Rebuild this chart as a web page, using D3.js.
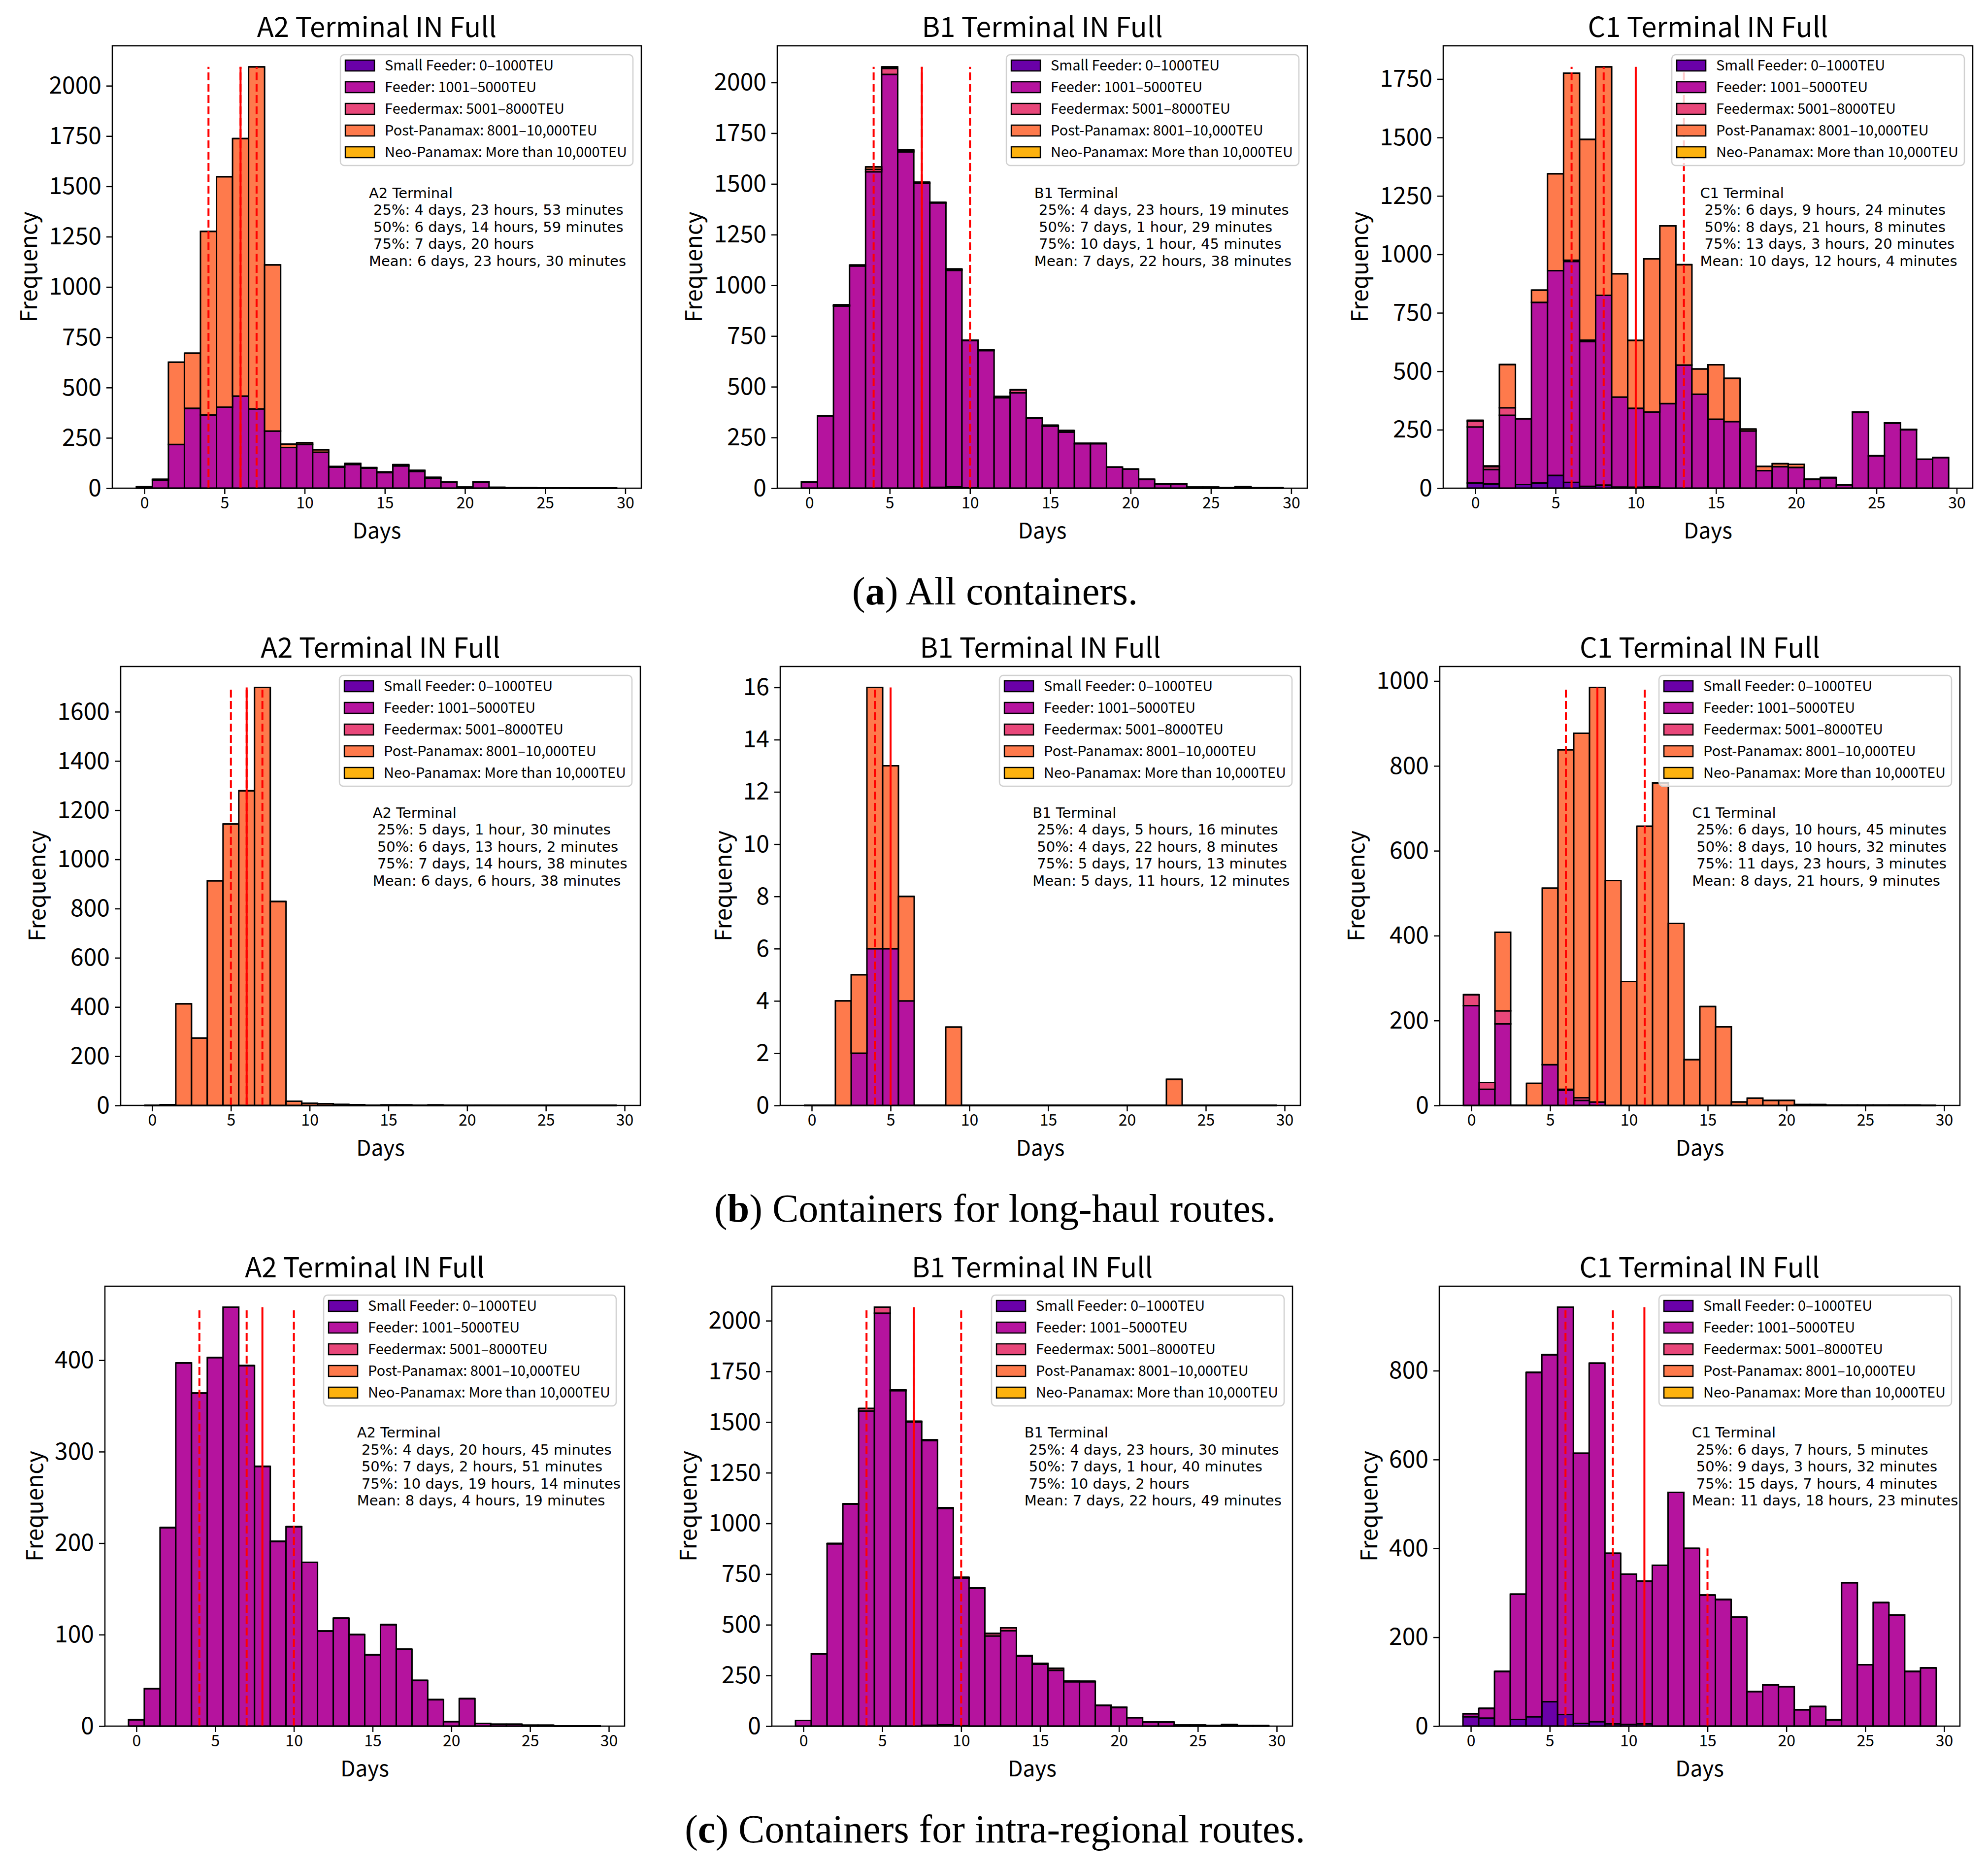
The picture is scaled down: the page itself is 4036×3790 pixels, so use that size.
<!DOCTYPE html>
<html>
<head>
<meta charset="utf-8">
<script src="https://cdn.jsdelivr.net/npm/d3@7"></script>
<style>
  body { margin: 0; background: #fff; }
  svg text { font-family: "Noto Sans CJK JP", "Noto Sans", sans-serif; fill: #000; }
  .stats text { font-family: "DejaVu Sans", sans-serif; white-space: pre; }
  .caption { font-family: "Liberation Serif", "DejaVu Serif", serif; }
</style>
</head>
<body>
<svg id="fig" width="4036" height="3790"></svg>
<script>
// ---- data -------------------------------------------------------------
const days = [0,1,2,3,4,5,6,7,8,9,10,11,12,13,14,15,16,17,18,19,20,21,22,23,24,25,26,27,28,29]
const xTicks = [0, 5, 10, 15, 20, 25, 30]

const sizeKeys = ['small', 'feeder', 'feedermax', 'post', 'neo']
const sizeLabels = [
  'Small Feeder: 0–1000TEU',
  'Feeder: 1001–5000TEU',
  'Feedermax: 5001–8000TEU',
  'Post-Panamax: 8001–10,000TEU',
  'Neo-Panamax: More than 10,000TEU'
]
const sizeColors = ['#6a00a8', '#b5139e', '#e8477a', '#fe7a4c', '#fdb20f']

const terminals = ['A2', 'B1', 'C1']
const captions = [
  ['a', ' All containers.'],
  ['b', ' Containers for long-haul routes.'],
  ['c', ' Containers for intra-regional routes.']
]

// (a) all containers
const a2AllFeeder = [7,41,217,397,364,403,458,394,284,202,218,179,104,118,100,78,111,84,50,29,5,30,3,2,2,1,1,0,0,0]
const a2AllPost   = [0,3,409,274,912,1145,1280,1700,826,17,8,12,4,5,2,3,6,5,4,2,0,2,1,0,0,0,0,0,0,0]
const b1AllSmall  = [0,0,0,0,0,0,0,0,4,6,2,0,0,0,0,0,0,0,0,0,0,0,0,0,0,0,0,0,0,0]
const b1AllFeeder = [31,357,898,1095,1560,2040,1658,1503,1402,1068,726,678,446,470,345,306,276,219,219,104,94,44,21,21,5,5,3,7,2,2]
const b1AllFmax   = [0,0,2,2,12,30,6,5,3,4,2,3,7,15,3,4,8,2,2,0,0,0,0,0,0,0,0,0,0,0]
const b1AllPost   = [0,0,4,3,12,7,4,0,0,3,0,0,0,0,0,0,0,0,0,0,0,0,0,1,0,0,0,0,0,0]
const c1AllSmall  = [22,18,0,16,22,55,25,8,13,5,4,6,0,0,0,0,0,0,0,0,0,0,0,0,0,0,0,0,0,0]
const c1AllFeeder = [240,62,312,281,773,875,945,619,812,385,338,320,362,527,402,295,285,245,75,92,89,37,44,14,325,138,278,250,123,131]
const c1AllFmax   = [25,12,32,0,0,0,5,6,0,0,0,0,0,0,0,0,0,0,0,0,0,0,0,0,0,0,0,0,0,0]
const c1AllPost   = [3,3,185,0,52,415,800,859,977,527,290,655,760,429,108,233,185,8,18,13,13,2,2,0,1,1,1,1,1,0]

// (b) long-haul routes
const a2LongPost   = [0,3,413,274,913,1144,1279,1699,829,17,9,7,4,3,1,2,2,1,2,1,0,1,0,0,0,0,0,0,0,0]
const b1LongFeeder = [0,0,0,2,6,6,4,0,0,0,0,0,0,0,0,0,0,0,0,0,0,0,0,0,0,0,0,0,0,0]
const b1LongPost   = [0,0,4,3,10,7,4,0,0,3,0,0,0,0,0,0,0,0,0,0,0,0,0,1,0,0,0,0,0,0]
const c1LongFeeder = [235,38,192,0,0,96,36,12,8,0,0,0,0,0,0,0,0,0,0,0,0,0,0,0,0,0,0,0,0,0]
const c1LongFmax   = [26,16,31,0,0,0,2,6,0,0,0,0,0,0,0,0,0,0,0,0,0,0,0,0,0,0,0,0,0,0]
const c1LongPost   = [0,0,185,0,52,416,800,859,977,530,292,658,760,429,108,233,185,8,17,12,12,2,2,1,1,1,1,1,1,0]

// (c) intra-regional routes
const a2IntraFeeder = [7,41,217,397,364,403,458,394,284,202,218,179,104,118,100,78,111,84,50,29,5,30,3,2,2,1,1,0,0,0]
const b1IntraSmall  = [0,0,0,0,0,0,0,0,4,6,2,0,0,0,0,0,0,0,0,0,0,0,0,0,0,0,0,0,0,0]
const b1IntraFeeder = [28,356,899,1095,1555,2037,1655,1501,1405,1068,729,679,445,470,345,305,275,219,219,102,92,42,20,20,5,5,3,7,2,2]
const b1IntraFmax   = [0,0,2,2,12,30,4,3,3,3,3,3,12,15,4,4,10,3,2,1,1,0,0,0,0,0,0,0,0,0]
const c1IntraSmall  = [21,18,0,15,21,55,26,6,10,5,4,5,0,0,0,0,0,0,0,0,0,0,0,0,0,0,0,0,0,0]
const c1IntraFeeder = [7,22,123,282,775,781,917,608,807,384,338,321,362,526,400,295,285,245,78,93,89,37,44,14,323,138,278,250,123,131]

// quartiles and mean as [days, hours, minutes]
const a2AllStats   = { q25: [4,23,53], q50: [6,14,59], q75: [7,20,0],   mean: [6,23,30] }
const b1AllStats   = { q25: [4,23,19], q50: [7,1,29],  q75: [10,1,45],  mean: [7,22,38] }
const c1AllStats   = { q25: [6,9,24],  q50: [8,21,8],  q75: [13,3,20],  mean: [10,12,4] }
const a2LongStats  = { q25: [5,1,30],  q50: [6,13,2],  q75: [7,14,38],  mean: [6,6,38] }
const b1LongStats  = { q25: [4,5,16],  q50: [4,22,8],  q75: [5,17,13],  mean: [5,11,12] }
const c1LongStats  = { q25: [6,10,45], q50: [8,10,32], q75: [11,23,3],  mean: [8,21,9] }
const a2IntraStats = { q25: [4,20,45], q50: [7,2,51],  q75: [10,19,14], mean: [8,4,19] }
const b1IntraStats = { q25: [4,23,30], q50: [7,1,40],  q75: [10,2,0],   mean: [7,22,49] }
const c1IntraStats = { q25: [6,7,5],   q50: [9,3,32],  q75: [15,7,4],   mean: [11,18,23] }
// the 75% line of the C1 intra-regional panel stops short in the original
const c1IntraLineTops = { q75: 400 }

const yTicksA2All = [0,250,500,750,1000,1250,1500,1750,2000]
const yTicksB1All = [0,250,500,750,1000,1250,1500,1750,2000]
const yTicksC1All = [0,250,500,750,1000,1250,1500,1750]
const yTicksA2Long = [0,200,400,600,800,1000,1200,1400,1600]
const yTicksB1Long = [0,2,4,6,8,10,12,14,16]
const yTicksC1Long = [0,200,400,600,800,1000]
const yTicksA2Intra = [0,100,200,300,400]
const yTicksB1Intra = [0,250,500,750,1000,1250,1500,1750,2000]
const yTicksC1Intra = [0,200,400,600,800]

const panelRows = [
  [
    { counts: { feeder: a2AllFeeder, post: a2AllPost }, stats: a2AllStats, yTicks: yTicksA2All },
    { counts: { small: b1AllSmall, feeder: b1AllFeeder, feedermax: b1AllFmax, post: b1AllPost }, stats: b1AllStats, yTicks: yTicksB1All },
    { counts: { small: c1AllSmall, feeder: c1AllFeeder, feedermax: c1AllFmax, post: c1AllPost }, stats: c1AllStats, yTicks: yTicksC1All }
  ],
  [
    { counts: { post: a2LongPost }, stats: a2LongStats, yTicks: yTicksA2Long },
    { counts: { feeder: b1LongFeeder, post: b1LongPost }, stats: b1LongStats, yTicks: yTicksB1Long },
    { counts: { feeder: c1LongFeeder, feedermax: c1LongFmax, post: c1LongPost }, stats: c1LongStats, yTicks: yTicksC1Long }
  ],
  [
    { counts: { feeder: a2IntraFeeder }, stats: a2IntraStats, yTicks: yTicksA2Intra },
    { counts: { small: b1IntraSmall, feeder: b1IntraFeeder, feedermax: b1IntraFmax }, stats: b1IntraStats, yTicks: yTicksB1Intra },
    { counts: { small: c1IntraSmall, feeder: c1IntraFeeder }, stats: c1IntraStats, yTicks: yTicksC1Intra, lineTops: c1IntraLineTops }
  ]
]

// ---- layout -----------------------------------------------------------
const rowY = [[93, 991], [1353, 2244], [2611, 3504]]
const colX = [
  [[228, 1302], [1578, 2654], [2930, 4005]],
  [[245, 1300], [1584, 2640], [2923, 3979]],
  [[213, 1268], [1567, 2624], [2922, 3979]]
]
const captionY = [1227, 2480, 3740]

const svg = d3.select('#fig')

function fmtDuration (t) {
  const [d, h, m] = t
  const parts = [`${d} ${d === 1 ? 'day' : 'days'}`]
  if (h) parts.push(`${h} ${h === 1 ? 'hour' : 'hours'}`)
  if (m) parts.push(`${m} ${m === 1 ? 'minute' : 'minutes'}`)
  return parts.join(', ')
}

function drawPanel (panel, terminal, box) {
  const { left, right, top, bottom } = box
  const g = svg.append('g')

  const rows = days.map((day, i) => {
    const r = { day }
    sizeKeys.forEach(k => { r[k] = panel.counts[k] ? panel.counts[k][i] : 0 })
    return r
  })
  const series = d3.stack().keys(sizeKeys)(rows)
  const maxTotal = d3.max(series[series.length - 1], d => d[1])

  const lo = days[0] - 0.5
  const hi = days[days.length - 1] + 0.5
  const pad = (hi - lo) * 0.05
  const x = d3.scaleLinear().domain([lo - pad, hi + pad]).range([left, right])
  const y = d3.scaleLinear().domain([0, maxTotal * 1.05]).range([bottom, top])

  // stacked bars, drawn as paths so that empty segments still leave their edge
  g.selectAll('.layer').data(series).join('g')
    .attr('class', 'layer')
    .attr('fill', (s, i) => sizeColors[i])
    .selectAll('path').data(s => s).join('path')
    .attr('d', d => {
      const x0 = x(d.data.day - 0.5), x1 = x(d.data.day + 0.5)
      return `M${x0},${y(d[0])}H${x1}V${y(d[1])}H${x0}Z`
    })
    .attr('stroke', '#000')
    .attr('stroke-width', 3)

  // quartile (dashed) and mean (solid) markers
  const lineTops = panel.lineTops || {}
  const marks = [
    { key: 'q25', dash: '16,7' }, { key: 'q50', dash: '16,7' },
    { key: 'q75', dash: '16,7' }, { key: 'mean', dash: null }
  ]
  g.selectAll('.vline').data(marks).join('line')
    .attr('class', 'vline')
    .attr('x1', m => x(panel.stats[m.key][0]))
    .attr('x2', m => x(panel.stats[m.key][0]))
    .attr('y1', y(0))
    .attr('y2', m => y(lineTops[m.key] != null ? lineTops[m.key] : maxTotal))
    .attr('stroke', '#ff0000')
    .attr('stroke-width', 4)
    .attr('stroke-dasharray', m => m.dash)

  // axes
  const yAxis = g.append('g').attr('transform', `translate(${left},0)`)
    .call(d3.axisLeft(y).tickValues(panel.yTicks).tickFormat(d3.format('d')).tickSize(12).tickPadding(10))
  yAxis.select('.domain').remove()
  yAxis.selectAll('.tick line').attr('stroke', '#000').attr('stroke-width', 2.5)
  yAxis.selectAll('.tick text').attr('font-size', 48).attr('font-family', '"Noto Sans CJK JP", sans-serif')

  const xAxis = g.append('g').attr('transform', `translate(0,${bottom})`)
    .call(d3.axisBottom(x).tickValues(xTicks).tickSize(12).tickPadding(6))
  xAxis.select('.domain').remove()
  xAxis.selectAll('.tick line').attr('stroke', '#000').attr('stroke-width', 2.5)
  xAxis.selectAll('.tick text').attr('font-size', 32).attr('font-family', '"Noto Sans", sans-serif')

  g.append('rect')
    .attr('x', left).attr('y', top)
    .attr('width', right - left).attr('height', bottom - top)
    .attr('fill', 'none').attr('stroke', '#000').attr('stroke-width', 2.5)

  let maxTickW = 0
  yAxis.selectAll('.tick text').each(function () { maxTickW = Math.max(maxTickW, this.getBBox().width) })

  g.append('text')
    .attr('transform', `translate(${left - 22 - maxTickW - 24},${(top + bottom) / 2}) rotate(-90)`)
    .attr('text-anchor', 'middle')
    .attr('font-size', 46)
    .text('Frequency')

  g.append('text')
    .attr('x', (left + right) / 2).attr('y', bottom + 102)
    .attr('text-anchor', 'middle')
    .attr('font-family', '"Noto Sans", sans-serif')
    .attr('font-size', 44)
    .text('Days')

  g.append('text')
    .attr('x', (left + right) / 2).attr('y', top - 18)
    .attr('text-anchor', 'middle')
    .attr('font-size', 56)
    .text(`${terminal} Terminal IN Full`)

  // legend
  const lg = g.append('g')
  const frame = lg.append('rect')
    .attr('rx', 8).attr('ry', 8)
    .attr('fill', '#fff').attr('fill-opacity', 0.8)
    .attr('stroke', '#d0d0d0').attr('stroke-width', 2.5)
  const items = lg.selectAll('.item').data(sizeLabels).join('g')
    .attr('class', 'item')
    .attr('transform', (d, i) => `translate(0,${22 + i * 44})`)
  items.append('rect')
    .attr('x', 10).attr('y', -11).attr('width', 59).attr('height', 22)
    .attr('fill', (d, i) => sizeColors[i])
    .attr('stroke', '#000').attr('stroke-width', 2.5)
  items.append('text')
    .attr('x', 90).attr('dy', '0.35em')
    .attr('font-size', 29)
    .text(d => d)
  let maxTextW = 0
  items.selectAll('text').each(function () { maxTextW = Math.max(maxTextW, this.getComputedTextLength()) })
  const lgW = 90 + maxTextW + 12
  const lgH = 22 + 44 * (sizeLabels.length - 1) + 27
  frame.attr('width', lgW).attr('height', lgH)
  lg.attr('transform', `translate(${right - 17 - lgW},${top + 18})`)

  // statistics text
  const lines = [
    `${terminal} Terminal`,
    ` 25%: ${fmtDuration(panel.stats.q25)}`,
    ` 50%: ${fmtDuration(panel.stats.q50)}`,
    ` 75%: ${fmtDuration(panel.stats.q75)}`,
    `Mean: ${fmtDuration(panel.stats.mean)}`
  ]
  const st = g.append('g').attr('class', 'stats')
  st.selectAll('text').data(lines).join('text')
    .attr('x', left + 0.485 * (right - left))
    .attr('y', (d, i) => top + 0.344 * (bottom - top) + i * 34.5)
    .attr('font-size', 29)
    .text(d => d)
}

panelRows.forEach((row, r) => {
  row.forEach((panel, c) => {
    drawPanel(panel, terminals[c], {
      left: colX[r][c][0], right: colX[r][c][1], top: rowY[r][0], bottom: rowY[r][1]
    })
  })
  const cap = svg.append('text')
    .attr('class', 'caption')
    .attr('x', 2020).attr('y', captionY[r])
    .attr('text-anchor', 'middle')
    .attr('font-size', 80)
  cap.append('tspan').text('(')
  cap.append('tspan').attr('font-weight', 'bold').text(captions[r][0])
  cap.append('tspan').text(')' + captions[r][1])
})
</script>
</body>
</html>
